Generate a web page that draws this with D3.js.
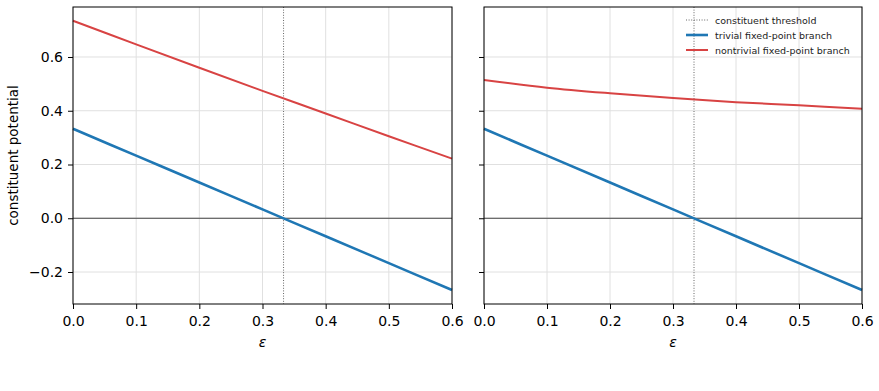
<!DOCTYPE html>
<html>
<head>
<meta charset="utf-8">
<script src="https://cdn.jsdelivr.net/npm/d3@7"></script>
<style>
  body { margin: 0; background: #fff; }
  svg text { font-family: "DejaVu Sans", sans-serif; }
</style>
</head>
<body>
<div id="wrapper"></div>
<script>
// values, at eps = 0, 0.1, ..., 0.6
const epsValues = [0, 0.1, 0.2, 0.3, 0.4, 0.5, 0.6]
const trivialBranch = [0.333, 0.233, 0.133, 0.033, -0.067, -0.167, -0.267]
const nontrivialLeft = [0.735, 0.647, 0.560, 0.474, 0.390, 0.305, 0.222]
const nontrivialRight = [0.514, 0.486, 0.465, 0.447, 0.432, 0.420, 0.407]
const threshold = 1 / 3

const xTicks = [0, 0.1, 0.2, 0.3, 0.4, 0.5, 0.6]
const yTicks = [-0.2, 0, 0.2, 0.4, 0.6]

const legendLabels = ["constituent threshold", "trivial fixed-point branch", "nontrivial fixed-point branch"]

const blue = "#1f77b4"
const red = "#d84343"

let dimensions = {
  width: 879,
  height: 391,
  top: 7,
  bottom: 304,
  panels: [[73, 452], [484, 862]]
}

const wrapper = d3.select("#wrapper").append("svg")
  .attr("width", dimensions.width)
  .attr("height", dimensions.height)

const yScale = d3.scaleLinear().domain([-0.319, 0.786]).range([dimensions.bottom, dimensions.top])

const drawPanel = (redSeries, i) => {
  const [x0, x1] = dimensions.panels[i]
  const xScale = d3.scaleLinear().domain([0, 0.6]).range([x0, x1])
  const g = wrapper.append("g")

  // grid
  g.append("g").selectAll("line").data(xTicks).join("line")
    .attr("x1", d => xScale(d)).attr("x2", d => xScale(d))
    .attr("y1", dimensions.top).attr("y2", dimensions.bottom)
    .attr("stroke", "#e0e0e0").attr("stroke-width", 1)
  g.append("g").selectAll("line").data(yTicks).join("line")
    .attr("x1", x0).attr("x2", x1)
    .attr("y1", d => yScale(d)).attr("y2", d => yScale(d))
    .attr("stroke", "#e0e0e0").attr("stroke-width", 1)

  // zero line
  g.append("line")
    .attr("x1", x0).attr("x2", x1)
    .attr("y1", yScale(0)).attr("y2", yScale(0))
    .attr("stroke", "#333").attr("stroke-width", 0.9)

  // threshold
  g.append("line")
    .attr("x1", xScale(threshold)).attr("x2", xScale(threshold))
    .attr("y1", dimensions.top).attr("y2", dimensions.bottom)
    .attr("stroke", "#666").attr("stroke-width", 1)
    .attr("stroke-dasharray", "1,1.6")

  const line = series => d3.line()
    .x((d, j) => xScale(epsValues[j]))
    .y(d => yScale(d))
    .curve(d3.curveCatmullRom)(series)

  g.append("path").attr("d", line(redSeries))
    .attr("fill", "none").attr("stroke", red).attr("stroke-width", 2)
  g.append("path").attr("d", line(trivialBranch))
    .attr("fill", "none").attr("stroke", blue).attr("stroke-width", 2.6)

  // axes
  const xAxis = g.append("g")
    .attr("transform", `translate(0,${dimensions.bottom})`)
    .call(d3.axisBottom(xScale).tickValues(xTicks).tickFormat(d3.format(".1f")).tickSizeInner(5).tickSizeOuter(0).tickPadding(7))
  xAxis.select(".domain").remove()
  xAxis.selectAll("text").attr("font-size", 14).attr("fill", "#000")
    .attr("font-family", "DejaVu Sans")

  const yAxis = g.append("g")
    .attr("transform", `translate(${x0},0)`)
    .call(d3.axisLeft(yScale).tickValues(yTicks).tickFormat(d => d3.format(".1f")(d).replace("-", "\u2212")).tickSizeInner(5).tickSizeOuter(0).tickPadding(5))
  yAxis.select(".domain").remove()
  yAxis.selectAll("text").attr("font-size", 14).attr("fill", "#000")
    .attr("font-family", "DejaVu Sans")
  if (i === 1) yAxis.selectAll("text").remove()

  // frame
  g.append("rect")
    .attr("x", x0).attr("y", dimensions.top)
    .attr("width", x1 - x0).attr("height", dimensions.bottom - dimensions.top)
    .attr("fill", "none").attr("stroke", "#000").attr("stroke-width", 1)

  // x label
  g.append("text")
    .attr("x", (x0 + x1) / 2).attr("y", 347)
    .attr("text-anchor", "middle").attr("font-size", 14)
    .attr("font-style", "italic").attr("font-family", "DejaVu Serif")
    .text("ε")
}

drawPanel(nontrivialLeft, 0)
drawPanel(nontrivialRight, 1)

// y label
wrapper.append("text")
  .attr("transform", `translate(18,${(dimensions.top + dimensions.bottom) / 2}) rotate(-90)`)
  .attr("text-anchor", "middle").attr("font-size", 13.5)
  .text("constituent potential")

// legend
const legendStyles = [
  { stroke: "#666", width: 1, dash: "1,1.6" },
  { stroke: blue, width: 2.6, dash: null },
  { stroke: red, width: 2, dash: null }
]
const legend = wrapper.append("g").attr("transform", "translate(686,20)")
legendLabels.forEach((label, k) => {
  const row = legend.append("g").attr("transform", `translate(0,${k * 15})`)
  row.append("line")
    .attr("x1", 0).attr("x2", 22).attr("y1", 0).attr("y2", 0)
    .attr("stroke", legendStyles[k].stroke)
    .attr("stroke-width", legendStyles[k].width)
    .attr("stroke-dasharray", legendStyles[k].dash)
  row.append("text")
    .attr("x", 29).attr("y", 3.5)
    .attr("font-size", 9.5).attr("fill", "#222")
    .text(label)
})
</script>
</body>
</html>
